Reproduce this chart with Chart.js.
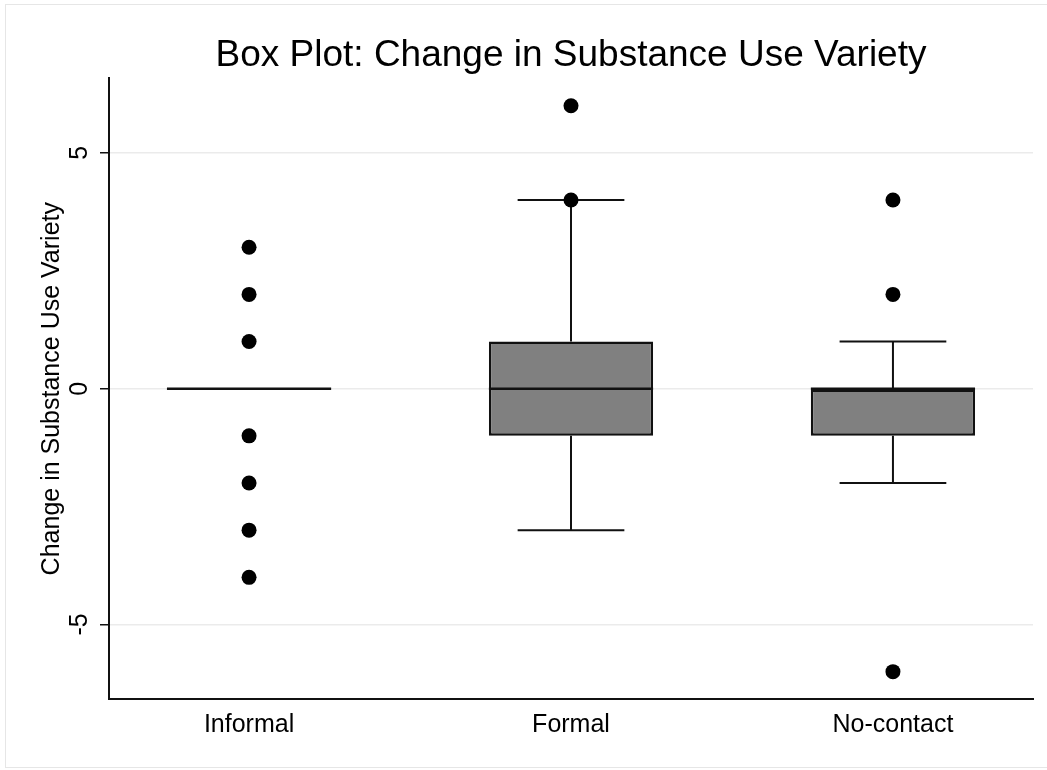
<!DOCTYPE html>
<html>
<head>
<meta charset="utf-8">
<script src="https://cdn.jsdelivr.net/npm/chart.js@4.4.0/dist/chart.umd.min.js"></script>
<style>
  html, body { margin: 0; padding: 0; background: #fff; }
  #wrap { position: relative; width: 1047px; height: 770px; overflow: hidden; }
  #frame { position: absolute; left: 5px; top: 4px; width: 1060px; height: 764px;
           border: 1px solid #e6e6e6; box-sizing: border-box; pointer-events: none; }
  canvas { position: absolute; left: 0; top: 0; }
</style>
</head>
<body>
<div id="wrap">
  <canvas id="c" width="1047" height="770"></canvas>
  <div id="frame"></div>
</div>
<script>
// Groups and box-plot summaries
const groups = ['Informal', 'Formal', 'No-contact'];
const q1 = [0, -1, -1];
const medians = [0, 0, 0];
const q3 = [0, 1, 0];
const whiskerLow = [0, -3, -2];
const whiskerHigh = [0, 4, 1];

// Outside values per group
const outliersInformal = [3, 2, 1, -1, -2, -3, -4];
const outliersFormal = [6, 4];
const outliersNoContact = [4, 2, -6];

// Axis ticks
const yTicks = [-5, 0, 5];

const FONT = "'Liberation Sans', Arial, Helvetica, sans-serif";
const INK = '#111111';

const outlierSets = [outliersInformal, outliersFormal, outliersNoContact];
const outlierPoints = [];
outlierSets.forEach((vals, i) => vals.forEach(v => outlierPoints.push({ x: i + 1, y: v })));

const boxData = groups.map((g, i) => ({ x: i + 1, y: [q1[i], q3[i]] }));

// Whiskers, caps and median lines, positioned from the bar elements and scales
const boxParts = {
  id: 'boxParts',
  beforeDatasetsDraw(chart) {
    const { ctx, scales: { y } } = chart;
    const meta = chart.getDatasetMeta(0);
    ctx.save();
    ctx.strokeStyle = INK;
    ctx.lineWidth = 2;
    groups.forEach((g, i) => {
      const bar = meta.data[i];
      const cx = bar.x;
      const capHalf = bar.width * 0.325;
      const yq1 = y.getPixelForValue(q1[i]);
      const yq3 = y.getPixelForValue(q3[i]);
      const ylo = y.getPixelForValue(whiskerLow[i]);
      const yhi = y.getPixelForValue(whiskerHigh[i]);
      if (whiskerHigh[i] > q3[i]) {
        ctx.beginPath();
        ctx.moveTo(cx, yq3); ctx.lineTo(cx, yhi);
        ctx.moveTo(cx - capHalf, yhi); ctx.lineTo(cx + capHalf, yhi);
        ctx.stroke();
      }
      if (whiskerLow[i] < q1[i]) {
        ctx.beginPath();
        ctx.moveTo(cx, yq1); ctx.lineTo(cx, ylo);
        ctx.moveTo(cx - capHalf, ylo); ctx.lineTo(cx + capHalf, ylo);
        ctx.stroke();
      }
    });
    ctx.restore();
  },
  afterDatasetDraw(chart, args) {
    if (args.index !== 0) return;
    const { ctx, scales: { y } } = chart;
    const meta = chart.getDatasetMeta(0);
    ctx.save();
    ctx.strokeStyle = INK;
    ctx.lineWidth = 2.5;
    groups.forEach((g, i) => {
      const bar = meta.data[i];
      const ym = y.getPixelForValue(medians[i]);
      ctx.beginPath();
      ctx.moveTo(bar.x - bar.width / 2, ym);
      ctx.lineTo(bar.x + bar.width / 2, ym);
      ctx.stroke();
    });
    ctx.restore();
  }
};

new Chart(document.getElementById('c'), {
  type: 'bar',
  data: {
    datasets: [
      {
        type: 'bar',
        data: boxData,
        backgroundColor: '#808080',
        borderColor: INK,
        borderWidth: 2.5,
        borderSkipped: false,
        categoryPercentage: 1,
        barPercentage: 0.51,
        order: 2
      },
      {
        type: 'scatter',
        data: outlierPoints,
        backgroundColor: '#000',
        borderColor: '#000',
        borderWidth: 0,
        pointRadius: 7.5,
        pointHoverRadius: 7.5,
        order: 1
      }
    ]
  },
  options: {
    responsive: false,
    animation: false,
    events: [],
    layout: { padding: { left: 0, right: 14, top: 0, bottom: 0 } },
    plugins: {
      legend: { display: false },
      tooltip: { enabled: false },
      title: {
        display: true,
        fullSize: false,
        text: 'Box Plot: Change in Substance Use Variety',
        color: '#000',
        font: { family: FONT, size: 37, weight: 'normal' },
        padding: { top: 34, bottom: 0 }
      }
    },
    scales: {
      x: {
        type: 'linear',
        offset: false,
        min: 0.565,
        max: 3.435,
        afterBuildTicks: s => { s.ticks = groups.map((g, i) => ({ value: i + 1 })); },
        afterFit: s => { s.height = 71; },
        grid: { display: false, drawTicks: false, offset: false },
        border: { display: true, color: INK, width: 2 },
        ticks: {
          color: '#000',
          font: { family: FONT, size: 25 },
          padding: 11,
          autoSkip: false,
          maxRotation: 0,
          callback: v => groups[v - 1]
        }
      },
      y: {
        type: 'linear',
        min: -6.58,
        max: 6.58,
        afterBuildTicks: s => { s.ticks = yTicks.map(v => ({ value: v })); },
        afterFit: s => { s.width = 109; },
        grid: { color: '#ebebeb', lineWidth: 1.5, tickColor: INK, tickLength: 9, drawTicks: true },
        border: { display: true, color: INK, width: 2 },
        ticks: {
          color: '#000',
          font: { family: FONT, size: 25 },
          padding: 9,
          minRotation: 90,
          maxRotation: 90,
          crossAlign: 'center',
          callback: v => String(v)
        },
        title: {
          display: true,
          text: 'Change in Substance Use Variety',
          color: '#000',
          font: { family: FONT, size: 25 },
          padding: { top: 37, bottom: 0 }
        }
      }
    }
  },
  plugins: [boxParts]
});
</script>
</body>
</html>
